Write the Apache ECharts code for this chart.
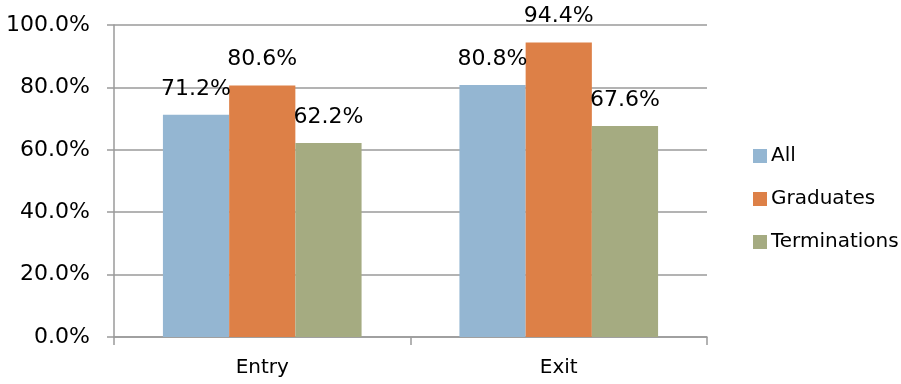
<!DOCTYPE html>
<html>
<head>
<meta charset="utf-8">
<script src="https://cdn.jsdelivr.net/npm/echarts@6/dist/echarts.min.js"></script>
<style>
  html, body { margin: 0; padding: 0; background: #fff; }
  #chart { width: 901px; height: 384px; }
</style>
</head>
<body>
<div id="chart"></div>
<script>
// data
const categories = ['Entry', 'Exit'];
const seriesNames = ['All', 'Graduates', 'Terminations'];
const allValues = [71.2, 80.8];
const graduateValues = [80.6, 94.4];
const terminationValues = [62.2, 67.6];
const yTicks = [0, 20, 40, 60, 80, 100];

const colors = ['#94B6D2', '#DD8047', '#A5AB81'];
const fontFamily = '"DejaVu Sans", sans-serif';

const chart = echarts.init(document.getElementById('chart'));

const makeSeries = (name, data) => ({
    name: name,
    type: 'bar',
    data: data,
    barGap: '0%',
    barCategoryGap: '33%',
    label: {
        show: true,
        position: 'top',
        distance: 15,
        color: '#000',
        fontFamily: fontFamily,
        fontSize: 22,
        formatter: (p) => p.value.toFixed(1) + '%'
    }
});

const option = {
    animation: false,
    color: colors,
    textStyle: { fontFamily: fontFamily },
    legend: {
        orient: 'vertical',
        left: 748,
        top: 141,
        itemWidth: 14,
        itemHeight: 14,
        itemGap: 23,
        icon: 'rect',
        data: seriesNames,
        textStyle: {
            color: '#000',
            fontSize: 20,
            fontFamily: fontFamily,
            padding: [0, 0, 0, -1]
        }
    },
    grid: {
        left: 114,
        right: 194,
        top: 25,
        bottom: 47,
        containLabel: false
    },
    xAxis: {
        type: 'category',
        data: categories,
        axisLine: { lineStyle: { color: '#9a9a9a', width: 1.5 } },
        axisTick: { show: true, length: 8, lineStyle: { color: '#9a9a9a', width: 1.5 } },
        axisLabel: { color: '#000', fontSize: 20, fontFamily: fontFamily, margin: 21 }
    },
    yAxis: {
        type: 'value',
        min: yTicks[0],
        max: yTicks[yTicks.length - 1],
        interval: 20,
        axisLine: { show: true, lineStyle: { color: '#9a9a9a', width: 1.5 } },
        axisTick: { show: true, length: 7, lineStyle: { color: '#9a9a9a', width: 1.5 } },
        splitLine: { show: true, lineStyle: { color: '#9a9a9a', width: 1.5 } },
        axisLabel: {
            color: '#000',
            fontSize: 22,
            fontFamily: fontFamily,
            margin: 24,
            formatter: (v) => v.toFixed(1) + '%'
        }
    },
    series: [
        makeSeries(seriesNames[0], allValues),
        makeSeries(seriesNames[1], graduateValues),
        makeSeries(seriesNames[2], terminationValues)
    ]
};

chart.setOption(option);
</script>
</body>
</html>
